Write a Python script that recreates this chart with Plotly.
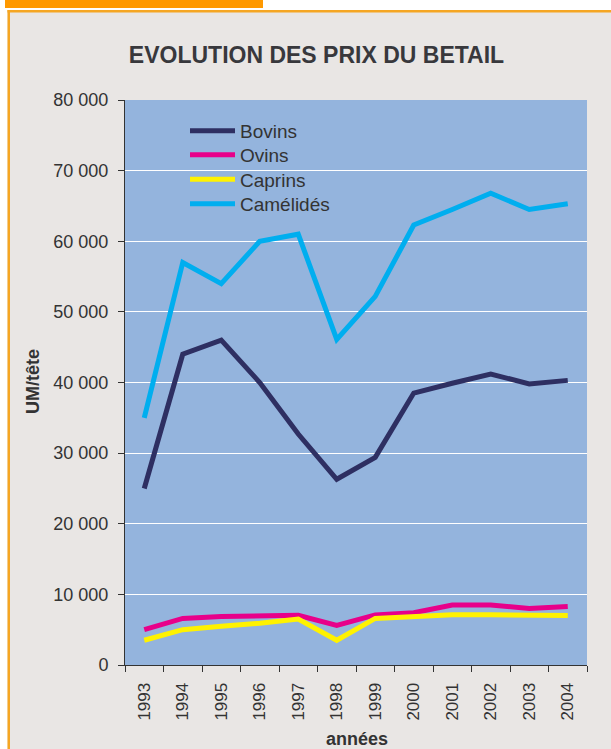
import plotly.graph_objects as go

# ---- data -------------------------------------------------------------
years = ["1993", "1994", "1995", "1996", "1997", "1998",
         "1999", "2000", "2001", "2002", "2003", "2004"]

bovins = [25000, 44000, 46000, 40000, 32700, 26300,
          29400, 38500, 39900, 41200, 39800, 40300]
ovins = [5000, 6600, 6850, 7000, 7050, 5600,
         7100, 7400, 8500, 8500, 8000, 8300]
caprins = [3500, 5000, 5500, 5900, 6500, 3500,
           6600, 6800, 7100, 7100, 7000, 7000]
camelides = [35000, 57000, 54000, 60000, 61000, 46100,
             52200, 62300, 64500, 66800, 64500, 65300]

series = [
    ("Bovins", bovins, "#2e2f62"),
    ("Ovins", ovins, "#e8008a"),
    ("Caprins", caprins, "#fff200"),
    ("Camélidés", camelides, "#00aeef"),
]

# ---- geometry ---------------------------------------------------------
W, H = 611, 749
ML, MR, MT, MB = 125, 24, 100, 84
PW, PH = W - ML - MR, H - MT - MB
FONT = "Liberation Sans, Arial, sans-serif"
TXT = "#333333"
BG = "#e9e6e4"

# vertical centre (px) of each legend entry
LEGEND_ROWS = [131, 155, 179.5, 204]


def px_x(x):
    return (x - ML) / PW


def px_y(y):
    return (H - MB - y) / PH


fig = go.Figure()
legends = {}
for i, (name, vals, col) in enumerate(series):
    key = "legend" if i == 0 else f"legend{i + 1}"
    fig.add_trace(go.Scatter(
        x=years, y=vals, name=name, mode="lines",
        line=dict(color=col, width=5), legend=key,
    ))
    legends[key] = dict(
        x=px_x(185), y=px_y(LEGEND_ROWS[i]), xanchor="left", yanchor="middle",
        bgcolor="rgba(0,0,0,0)", itemwidth=45,
        font=dict(family=FONT, size=19, color=TXT),
    )


def rect(x0, y0, x1, y1, color):
    return dict(type="rect", xref="paper", yref="paper",
                x0=px_x(x0), x1=px_x(x1), y0=px_y(y1), y1=px_y(y0),
                fillcolor=color, line=dict(width=0), layer="above")


shapes = [
    rect(0, 0, 7.5, H, "#ffffff"),
    rect(0, 0, W, 10, "#ffffff"),
    rect(5, 0, 263, 8, "#ff9900"),
    rect(7.5, 10, W, 12.5, "#f5a623"),
    rect(7.5, 10, 10, H, "#f5a623"),
]

annotations = [
    dict(text="<b>UM/tête</b>", xref="paper", yref="paper",
         x=px_x(33), y=px_y(382), textangle=-90, showarrow=False,
         xanchor="center", yanchor="middle",
         font=dict(family=FONT, size=18, color=TXT)),
    dict(text="<b>années</b>", xref="paper", yref="paper",
         x=px_x(357), y=px_y(739), showarrow=False,
         xanchor="center", yanchor="middle",
         font=dict(family=FONT, size=18, color=TXT)),
]

fig.update_layout(
    width=W, height=H,
    margin=dict(l=ML, r=MR, t=MT, b=MB),
    paper_bgcolor=BG,
    plot_bgcolor="#94b4dd",
    separators=", ",
    title=dict(text="EVOLUTION DES PRIX DU BETAIL",
               xref="container", yref="container",
               x=316.5 / W, y=1 - 55 / H, xanchor="center", yanchor="middle",
               font=dict(family=FONT, size=23, color="#38383c", weight="bold")),
    showlegend=True,
    shapes=shapes,
    annotations=annotations,
    xaxis=dict(
        type="category", range=[-0.5, len(years) - 0.5],
        tickson="boundaries", ticks="outside", ticklen=6,
        tickcolor=TXT, tickangle=-90, showline=True, linecolor=TXT,
        linewidth=1, showgrid=False, zeroline=False,
        tickfont=dict(family=FONT, size=17, color=TXT),
        ticklabelstandoff=10, fixedrange=True,
    ),
    yaxis=dict(
        range=[0, 80000], dtick=10000, tickformat=",.0f",
        ticks="outside", ticklen=6, tickcolor=TXT,
        showline=True, linecolor=TXT, linewidth=1,
        showgrid=True, gridcolor="#ffffff", gridwidth=1, zeroline=False,
        tickfont=dict(family=FONT, size=18, color=TXT),
        ticklabelstandoff=6, fixedrange=True,
    ),
    **legends,
)

fig.write_html("out.html", config={"displayModeBar": False})
